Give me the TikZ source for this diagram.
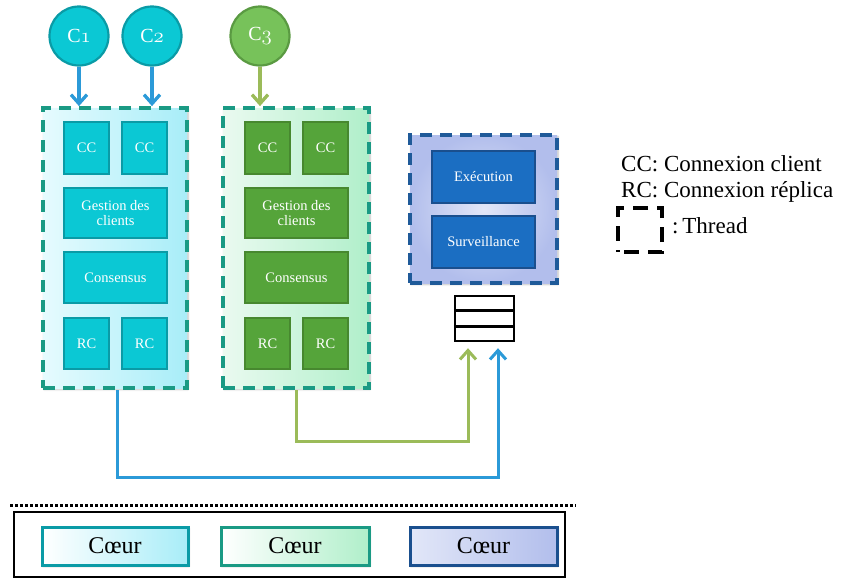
\documentclass[tikz,border=0pt]{standalone}
\usepackage{fontspec}
\setmainfont{Liberation Serif}
\usetikzlibrary{arrows.meta,calc,shadows.blur}
\newcommand\osd[1]{\ensuremath{\mathchar"013#1}}
\definecolor{cyanfill}{HTML}{0BC8D4}
\definecolor{cyandraw}{HTML}{0A9BA6}
\definecolor{greenfill}{HTML}{55A43A}
\definecolor{greendraw}{HTML}{47882F}
\definecolor{cthreefill}{HTML}{77C25A}
\definecolor{cthreedraw}{HTML}{5A9A42}
\definecolor{bluefill}{HTML}{1B6EC2}
\definecolor{bluedraw}{HTML}{1A4F8E}
\definecolor{tealdash}{HTML}{1A9A84}
\definecolor{navydash}{HTML}{1F5A99}
\definecolor{arrowblue}{HTML}{2B9AD8}
\definecolor{arrowgreen}{HTML}{9BBB59}
\definecolor{cyanlight}{HTML}{E6FBFE}
\definecolor{cyandeep}{HTML}{A8EDF8}
\definecolor{greenlight}{HTML}{EAFAF0}
\definecolor{greendeep}{HTML}{B0EFCA}
\definecolor{bluelight}{HTML}{E2E7F8}
\definecolor{bluedeep}{HTML}{B2BEEC}
\tikzset{
  lbl/.style={text=white, font=\fontsize{14.5}{15}\selectfont, align=center, inner sep=0pt},
  cbox/.style={lbl, draw=cyandraw, fill=cyanfill, line width=1.8pt},
  gbox/.style={lbl, draw=greendraw, fill=greenfill, line width=1.8pt},
  bbox/.style={lbl, draw=bluedraw, fill=bluefill, line width=1.8pt},
  thread/.style={dash pattern=on 12pt off 8pt, line width=3.8pt,
     blur shadow={shadow blur steps=6, shadow xshift=1pt, shadow yshift=-1.5pt, shadow opacity=25}},
  client/.style={circle, minimum size=59pt, inner sep=0pt, line width=2.2pt, text=white,
     font=\fontsize{20}{21}\selectfont},
  conn/.style={line width=3.3pt, -{Straight Barb[length=9pt,width=16pt]}},
  coeur/.style={minimum height=38pt, line width=3pt, font=\fontsize{24}{25}\selectfont, inner sep=0pt,
     blur shadow={shadow blur steps=5, shadow xshift=1pt, shadow yshift=-1.5pt, shadow opacity=25}},
  legend/.style={anchor=base west, inner sep=0pt, font=\fontsize{23}{25}\selectfont},
}
\begin{document}
\begin{tikzpicture}[x=1pt,y=-1pt]
\useasboundingbox (0,0) rectangle (846,579);
% thread boxes
\node[thread, draw=tealdash, minimum width=144pt, minimum height=280pt,
  left color=cyanlight, right color=cyandeep] (t1) at (115,248) {};
\node[thread, draw=tealdash, minimum width=146pt, minimum height=280pt,
  left color=greenlight, right color=greendeep] (t2) at (296,248) {};
\node[thread, draw=navydash, minimum width=147pt, minimum height=148pt,
  inner color=bluelight, outer color=bluedeep] (t3) at (483.5,209) {};
% left column
\node[cbox, minimum width=45pt, minimum height=52pt] (cc1) at (86.5,148) {CC};
\node[cbox, minimum width=45pt, minimum height=52pt] (cc2) at (144.5,148) {CC};
\node[cbox, minimum width=103pt, minimum height=50pt] (gc1) at (115.5,213) {Gestion des\\clients};
\node[cbox, minimum width=103pt, minimum height=51pt] (co1) at (115.5,277.5) {Consensus};
\node[cbox, minimum width=45pt, minimum height=51pt] (rc1) at (86.5,343.5) {RC};
\node[cbox, minimum width=45pt, minimum height=51pt] (rc2) at (144.5,343.5) {RC};
% middle column
\node[gbox, minimum width=45pt, minimum height=52pt] (cc3) at (267.5,148) {CC};
\node[gbox, minimum width=45pt, minimum height=52pt] (cc4) at (325.5,148) {CC};
\node[gbox, minimum width=103pt, minimum height=50pt] (gc2) at (296.5,213) {Gestion des\\clients};
\node[gbox, minimum width=103pt, minimum height=51pt] (co2) at (296.5,277.5) {Consensus};
\node[gbox, minimum width=45pt, minimum height=51pt] (rc3) at (267.5,343.5) {RC};
\node[gbox, minimum width=45pt, minimum height=51pt] (rc4) at (325.5,343.5) {RC};
% right column
\node[bbox, minimum width=103pt, minimum height=52pt] (ex) at (483.5,177) {Exécution};
\node[bbox, minimum width=103pt, minimum height=52pt] (sv) at (483.5,242) {Surveillance};
% queue
\node[draw=black, line width=2.4pt, minimum width=59pt, minimum height=45pt, inner sep=0pt, fill=white] (queue) at (484.5,318.5) {};
\draw[line width=2.4pt] ($(queue.north west)!1/3!(queue.south west)$) -- ($(queue.north east)!1/3!(queue.south east)$);
\draw[line width=2.4pt] ($(queue.north west)!2/3!(queue.south west)$) -- ($(queue.north east)!2/3!(queue.south east)$);
\coordinate (qgreen) at ($(queue.south)+(-16.5,6)$);
\coordinate (qblue) at ($(queue.south)+(13.5,6)$);
% clients
\node[client, fill=cyanfill, draw=cyandraw] (c1) at (79,36) {C\osd1};
\node[client, fill=cyanfill, draw=cyandraw] (c2) at (152,36) {C\osd2};
\node[client, fill=cthreefill, draw=cthreedraw] (c3) at (260,36) {C\osd3};
\draw[conn, arrowblue] (c1) -- (c1 |- t1.north);
\draw[conn, arrowblue] (c2) -- (c2 |- t1.north);
\draw[conn, arrowgreen] (c3) -- (c3 |- t2.north);
% replica connectors
\draw[conn, arrowgreen, line width=3pt] (t2.south) -- ++(0,52) -| (qgreen);
\draw[conn, arrowblue, line width=3pt] ([xshift=2pt]t1.south) -- ++(0,88) -| (qblue);
% hardware
\draw[line width=3pt, dash pattern=on 3pt off 2pt] (10,505) coordinate (dl) -- (576,505) coordinate (dr);
\node[draw=black, line width=2.4pt, minimum width=551pt, minimum height=65pt, inner sep=0pt] (hw) at (289.5,544.5) {};
\node[coeur, draw=cyandraw, minimum width=146pt, left color=white, right color=cyandeep] (k1) at (115,546) {Cœur};
\node[coeur, draw=tealdash, minimum width=148pt, left color=white, right color=greendeep] (k2) at (295,546) {Cœur};
\node[coeur, draw=bluedraw, minimum width=147pt, left color=bluelight, right color=bluedeep] (k3) at (483.5,546) {Cœur};
% legend
\node[legend] (l1) at (621,171) {CC: Connexion client};
\node[legend] (l2) at (621,197) {RC: Connexion réplica};
\node[draw=black, line width=3.2pt, dash pattern=on 15pt off 9pt, dash phase=-6pt, minimum width=44pt, minimum height=44pt, inner sep=0pt] (ls) at (640,230) {};
\node[legend] (l3) at (672,233) {:\,Thread};
\end{tikzpicture}
\end{document}
